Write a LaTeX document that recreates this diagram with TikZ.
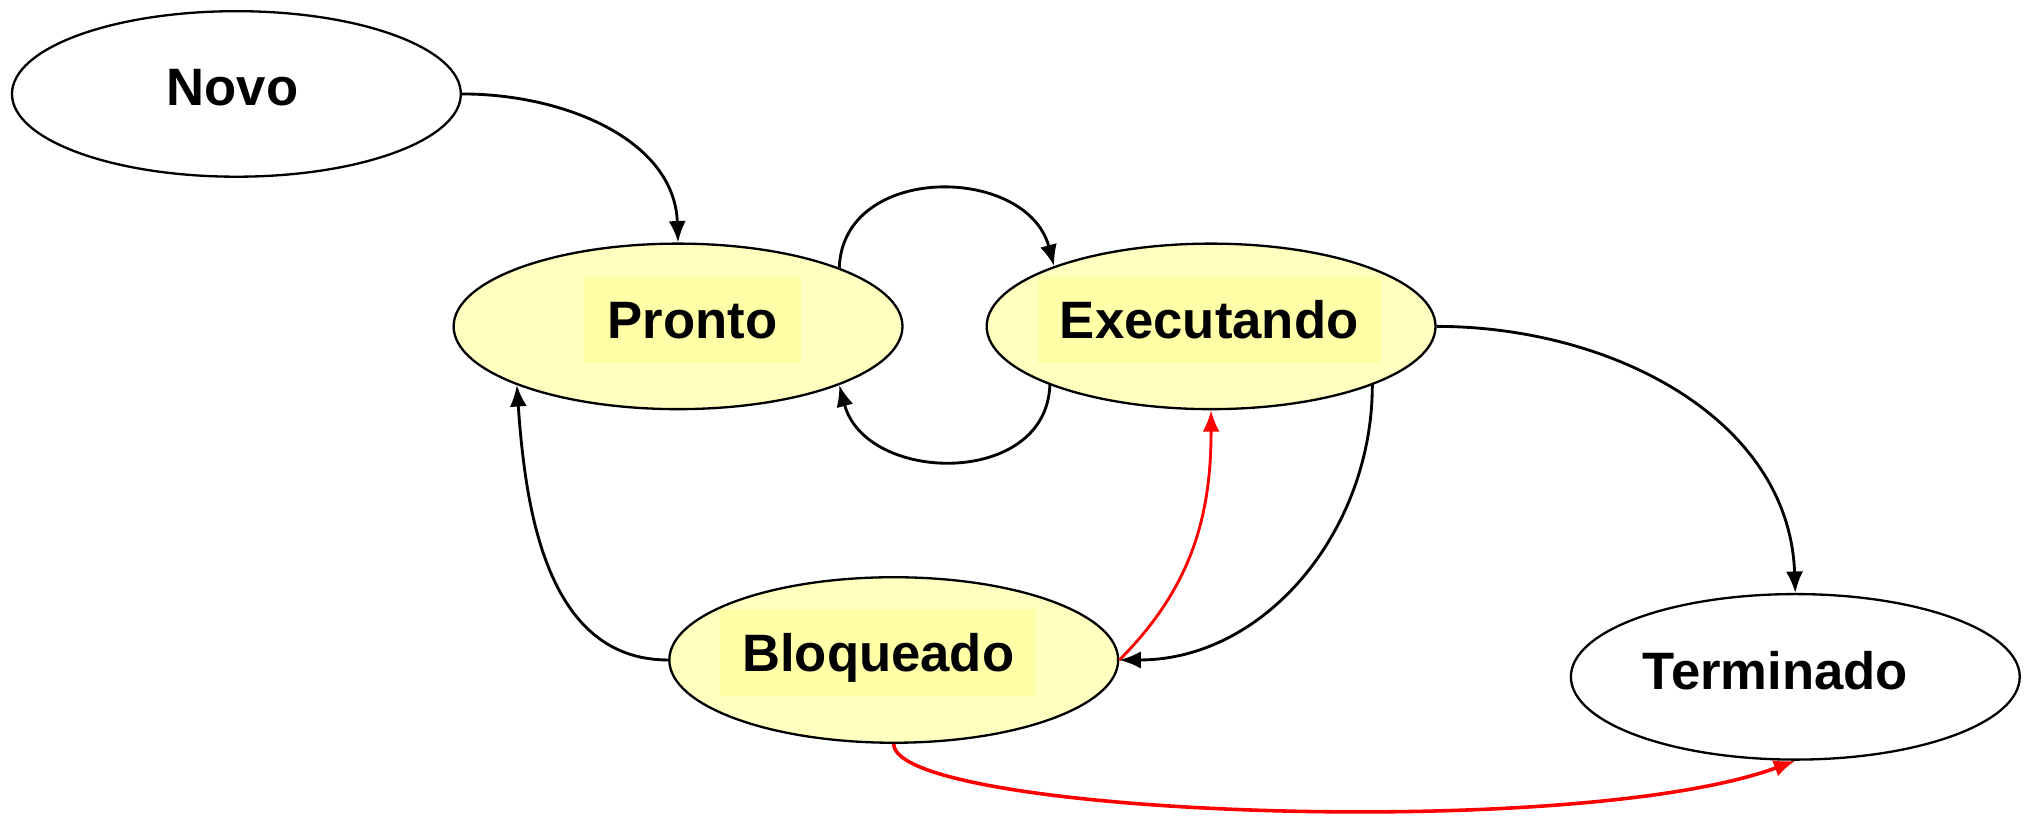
\documentclass[tikz,border=0pt]{standalone}
\usepackage{fontspec}
\setmainfont{Liberation Sans}
\usepackage{xcolor}
\definecolor{stateyellow}{RGB}{255,255,192}
\definecolor{labelyellow}{RGB}{255,255,168}
\usepackage{tikz}
\usetikzlibrary{shapes,arrows.meta,positioning,calc}

\begin{document}
\begin{tikzpicture}[
            >={Latex[length=6pt,width=4.8pt]},
            line width=0.8pt,
            state node/.style={ellipse,draw,line width=0.65pt,minimum width=4.42cm,minimum height=1.63cm,inner sep=0pt},
            active node/.style={state node,fill=stateyellow},
            label box/.style={rectangle,fill=labelyellow,minimum height=0.855cm,text height=10.5pt,text depth=0pt,inner sep=0pt,font=\fontsize{14.75}{17}\selectfont\bfseries},
            plain label/.style={label box,fill=none}
        ]
            \useasboundingbox (0,0) rectangle (20,-8.0355);

            \node[state node] (novo) at (2.328,-0.925) {};
            \node[active node] (pronto) at (6.677,-3.214) {};
            \node[active node] (exec) at (11.926,-3.214) {};
            \node[active node] (bloq) at (8.801,-6.499) {};
            \node[state node] (term) at (17.679,-6.665) {};

            \node[plain label] (novoLbl) at (2.290,-0.857) {Novo};
            \node[label box,minimum width=2.13cm] (prontoLbl) at (6.818,-3.144) {Pronto};
            \node[label box,minimum width=3.38cm] (execLbl) at (11.907,-3.144) {Executando};
            \node[label box,minimum width=3.11cm] (bloqLbl) at (8.648,-6.429) {Bloqueado};
            \node[plain label] (termLbl) at (17.484,-6.603) {Terminado};

            \draw[->] (novo.east) to[out=0,in=92] (pronto.north);
            \draw[->] (pronto.20) to[out=88,in=105,looseness=1.25] (exec.159);
            \draw[->] (exec.200) to[out=-92,in=-75,looseness=1.25] (pronto.340);
            \draw[->] (exec.east) to[out=0,in=92] (term.north);
            \draw[->,red] (bloq.east) to[out=45,in=-90] (exec.south);
            \draw[->] (exec.340) to[out=-90,in=0] (bloq.east);
            \draw[->] (bloq.west) to[out=180,in=-86] (pronto.200);
            \draw[->,red,line width=1pt] (bloq.south) .. controls +(0,-0.7) and +(-2.17,-0.8) .. (term.south);
        \end{tikzpicture}
\end{document}
